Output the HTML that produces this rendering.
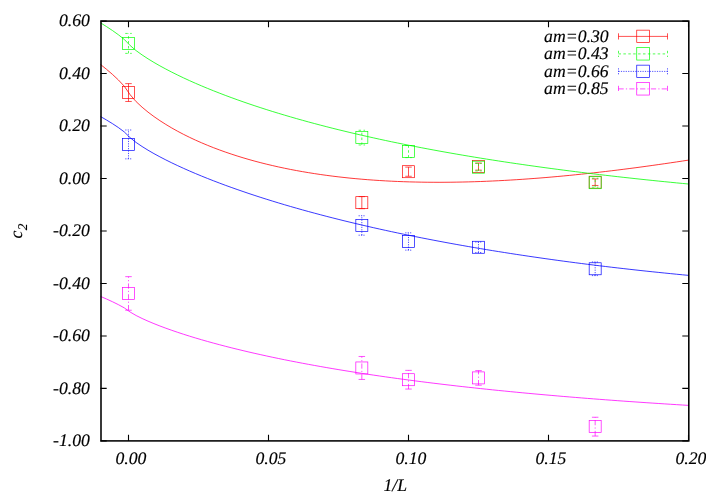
<!DOCTYPE html>
<html><head><meta charset="utf-8"><title>c2 vs 1/L</title>
<style>html,body{margin:0;padding:0;background:#fff}body{width:706px;height:494px;overflow:hidden}svg{display:block;will-change:transform}text{text-rendering:geometricPrecision;font-family:"Liberation Serif",serif;font-style:italic;fill:#000;stroke:#000;stroke-width:0.15px}</style></head><body>
<svg width="706" height="494" viewBox="0 0 706 494">
<rect width="706" height="494" fill="#fff"/>
<path d="M100.50 21.10h6.2M688.50 21.10h-6.2M100.50 73.57h6.2M688.50 73.57h-6.2M100.50 126.05h6.2M688.50 126.05h-6.2M100.50 178.52h6.2M688.50 178.52h-6.2M100.50 231.00h6.2M688.50 231.00h-6.2M100.50 283.48h6.2M688.50 283.48h-6.2M100.50 335.95h6.2M688.50 335.95h-6.2M100.50 388.42h6.2M688.50 388.42h-6.2M100.50 440.90h6.2M688.50 440.90h-6.2M128.50 440.90v-6.2M128.50 21.10v6.2M268.50 440.90v-6.2M268.50 21.10v6.2M408.50 440.90v-6.2M408.50 21.10v6.2M548.50 440.90v-6.2M548.50 21.10v6.2M688.50 440.90v-6.2M688.50 21.10v6.2" stroke="#000" stroke-width="1.1" fill="none"/>
<text x="89.90" y="26.40" font-size="17.7" text-anchor="end">0.60</text>
<text x="89.90" y="78.87" font-size="17.7" text-anchor="end">0.40</text>
<text x="89.90" y="131.35" font-size="17.7" text-anchor="end">0.20</text>
<text x="89.90" y="183.82" font-size="17.7" text-anchor="end">0.00</text>
<text x="89.90" y="236.30" font-size="17.7" text-anchor="end">-0.20</text>
<text x="89.90" y="288.78" font-size="17.7" text-anchor="end">-0.40</text>
<text x="89.90" y="341.25" font-size="17.7" text-anchor="end">-0.60</text>
<text x="89.90" y="393.72" font-size="17.7" text-anchor="end">-0.80</text>
<text x="89.90" y="446.20" font-size="17.7" text-anchor="end">-1.00</text>
<text x="130.90" y="464.2" font-size="17.7" text-anchor="middle">0.00</text>
<text x="270.90" y="464.2" font-size="17.7" text-anchor="middle">0.05</text>
<text x="410.90" y="464.2" font-size="17.7" text-anchor="middle">0.10</text>
<text x="550.90" y="464.2" font-size="17.7" text-anchor="middle">0.15</text>
<text x="690.90" y="464.2" font-size="17.7" text-anchor="middle">0.20</text>
<text x="395.3" y="490.8" font-size="17.7" text-anchor="middle">1/L</text>
<text transform="translate(22.2,238.6) rotate(-90)" font-size="17.7">c<tspan font-size="13.27" dx="0.5" dy="5.2">2</tspan></text>
<text x="608.6" y="41.80" font-size="17.7" text-anchor="end">am=0.30</text>
<text x="608.6" y="59.30" font-size="17.7" text-anchor="end">am=0.43</text>
<text x="608.6" y="76.80" font-size="17.7" text-anchor="end">am=0.66</text>
<text x="608.6" y="94.30" font-size="17.7" text-anchor="end">am=0.85</text>
<path d="M618.5 36.4H667.5" stroke="#ff0000" stroke-width="0.68" fill="none"/>
<path d="M618.5 33.3v6.2M667.5 33.3v6.2" stroke="#ff0000" stroke-width="0.68" fill="none"/>
<rect x="636.75" y="30.15" width="12.7" height="12.40" stroke="#ff0000" stroke-width="0.68" fill="none"/>
<path d="M128.50 101.47V83.62" stroke="#ff0000" stroke-width="0.68" fill="none"/>
<path d="M125.25 83.62h6.5M125.25 101.47h6.5" stroke="#ff0000" stroke-width="0.68" fill="none"/>
<rect x="122.50" y="86.54" width="12.0" height="12.0" stroke="#ff0000" stroke-width="0.68" fill="none"/>
<path d="M361.83 208.70V196.63" stroke="#ff0000" stroke-width="0.68" fill="none"/>
<path d="M358.58 196.63h6.5M358.58 208.70h6.5" stroke="#ff0000" stroke-width="0.68" fill="none"/>
<rect x="355.83" y="196.66" width="12.0" height="12.0" stroke="#ff0000" stroke-width="0.68" fill="none"/>
<path d="M408.50 176.29V167.11" stroke="#ff0000" stroke-width="0.68" fill="none"/>
<path d="M405.25 167.11h6.5M405.25 176.29h6.5" stroke="#ff0000" stroke-width="0.68" fill="none"/>
<rect x="402.50" y="165.70" width="12.0" height="12.0" stroke="#ff0000" stroke-width="0.68" fill="none"/>
<path d="M478.50 170.13V163.04" stroke="#ff0000" stroke-width="0.68" fill="none"/>
<path d="M475.25 163.04h6.5M475.25 170.13h6.5" stroke="#ff0000" stroke-width="0.68" fill="none"/>
<rect x="472.50" y="160.59" width="12.0" height="12.0" stroke="#ff0000" stroke-width="0.68" fill="none"/>
<path d="M595.17 185.48V178.92" stroke="#ff0000" stroke-width="0.68" fill="none"/>
<path d="M591.92 178.92h6.5M591.92 185.48h6.5" stroke="#ff0000" stroke-width="0.68" fill="none"/>
<rect x="589.17" y="176.20" width="12.0" height="12.0" stroke="#ff0000" stroke-width="0.68" fill="none"/>
<path d="M618.5 53.9H667.5" stroke-dasharray="2.5 2.4" stroke="#00ff00" stroke-width="0.68" fill="none"/>
<path d="M618.5 50.8v6.2M667.5 50.8v6.2" stroke-dasharray="2.5 2.4" stroke="#00ff00" stroke-width="0.68" fill="none"/>
<rect x="636.75" y="47.65" width="12.7" height="12.40" stroke="#00ff00" stroke-width="0.68" fill="none"/>
<path d="M128.50 53.37V33.43" stroke-dasharray="2.5 2.4" stroke="#00ff00" stroke-width="0.68" fill="none"/>
<path d="M125.25 33.43h6.5M125.25 53.37h6.5" stroke-dasharray="2.5 2.4" stroke="#00ff00" stroke-width="0.68" fill="none"/>
<rect x="122.50" y="37.40" width="12.0" height="12.0" stroke="#00ff00" stroke-width="0.68" fill="none"/>
<path d="M361.83 144.94V130.25" stroke-dasharray="2.5 2.4" stroke="#00ff00" stroke-width="0.68" fill="none"/>
<path d="M358.58 130.25h6.5M358.58 144.94h6.5" stroke-dasharray="2.5 2.4" stroke="#00ff00" stroke-width="0.68" fill="none"/>
<rect x="355.83" y="131.59" width="12.0" height="12.0" stroke="#00ff00" stroke-width="0.68" fill="none"/>
<path d="M408.50 157.61V145.54" stroke-dasharray="2.5 2.4" stroke="#00ff00" stroke-width="0.68" fill="none"/>
<path d="M405.25 145.54h6.5M405.25 157.61h6.5" stroke-dasharray="2.5 2.4" stroke="#00ff00" stroke-width="0.68" fill="none"/>
<rect x="402.50" y="145.58" width="12.0" height="12.0" stroke="#00ff00" stroke-width="0.68" fill="none"/>
<path d="M478.50 170.94V163.44" stroke-dasharray="2.5 2.4" stroke="#00ff00" stroke-width="0.68" fill="none"/>
<path d="M475.25 163.44h6.5M475.25 170.94h6.5" stroke-dasharray="2.5 2.4" stroke="#00ff00" stroke-width="0.68" fill="none"/>
<rect x="472.50" y="161.19" width="12.0" height="12.0" stroke="#00ff00" stroke-width="0.68" fill="none"/>
<path d="M595.17 187.16V178.24" stroke-dasharray="2.5 2.4" stroke="#00ff00" stroke-width="0.68" fill="none"/>
<path d="M591.92 178.24h6.5M591.92 187.16h6.5" stroke-dasharray="2.5 2.4" stroke="#00ff00" stroke-width="0.68" fill="none"/>
<rect x="589.17" y="176.70" width="12.0" height="12.0" stroke="#00ff00" stroke-width="0.68" fill="none"/>
<path d="M618.5 71.4H667.5" stroke-dasharray="1.2 1.2" stroke="#0000ff" stroke-width="0.68" fill="none"/>
<path d="M618.5 68.30000000000001v6.2M667.5 68.30000000000001v6.2" stroke-dasharray="1.2 1.2" stroke="#0000ff" stroke-width="0.68" fill="none"/>
<rect x="636.75" y="65.15" width="12.7" height="12.40" stroke="#0000ff" stroke-width="0.68" fill="none"/>
<path d="M128.50 158.85V129.99" stroke-dasharray="1.2 1.2" stroke="#0000ff" stroke-width="0.68" fill="none"/>
<path d="M125.25 129.99h6.5M125.25 158.85h6.5" stroke-dasharray="1.2 1.2" stroke="#0000ff" stroke-width="0.68" fill="none"/>
<rect x="122.50" y="138.42" width="12.0" height="12.0" stroke="#0000ff" stroke-width="0.68" fill="none"/>
<path d="M361.83 235.20V215.78" stroke-dasharray="1.2 1.2" stroke="#0000ff" stroke-width="0.68" fill="none"/>
<path d="M358.58 215.78h6.5M358.58 235.20h6.5" stroke-dasharray="1.2 1.2" stroke="#0000ff" stroke-width="0.68" fill="none"/>
<rect x="355.83" y="219.49" width="12.0" height="12.0" stroke="#0000ff" stroke-width="0.68" fill="none"/>
<path d="M408.50 250.15V232.84" stroke-dasharray="1.2 1.2" stroke="#0000ff" stroke-width="0.68" fill="none"/>
<path d="M405.25 232.84h6.5M405.25 250.15h6.5" stroke-dasharray="1.2 1.2" stroke="#0000ff" stroke-width="0.68" fill="none"/>
<rect x="402.50" y="235.49" width="12.0" height="12.0" stroke="#0000ff" stroke-width="0.68" fill="none"/>
<path d="M478.50 252.51V242.02" stroke-dasharray="1.2 1.2" stroke="#0000ff" stroke-width="0.68" fill="none"/>
<path d="M475.25 242.02h6.5M475.25 252.51h6.5" stroke-dasharray="1.2 1.2" stroke="#0000ff" stroke-width="0.68" fill="none"/>
<rect x="472.50" y="241.27" width="12.0" height="12.0" stroke="#0000ff" stroke-width="0.68" fill="none"/>
<path d="M595.17 275.60V261.96" stroke-dasharray="1.2 1.2" stroke="#0000ff" stroke-width="0.68" fill="none"/>
<path d="M591.92 261.96h6.5M591.92 275.60h6.5" stroke-dasharray="1.2 1.2" stroke="#0000ff" stroke-width="0.68" fill="none"/>
<rect x="589.17" y="262.78" width="12.0" height="12.0" stroke="#0000ff" stroke-width="0.68" fill="none"/>
<path d="M618.5 88.9H667.5" stroke-dasharray="5.2 2.2 1.2 2.2" stroke="#ff00ff" stroke-width="0.68" fill="none"/>
<path d="M618.5 85.80000000000001v6.2M667.5 85.80000000000001v6.2" stroke-dasharray="5.2 2.2 1.2 2.2" stroke="#ff00ff" stroke-width="0.68" fill="none"/>
<rect x="636.75" y="82.65" width="12.7" height="12.40" stroke="#ff00ff" stroke-width="0.68" fill="none"/>
<path d="M128.50 310.24V276.65" stroke-dasharray="5.2 2.2 1.2 2.2" stroke="#ff00ff" stroke-width="0.68" fill="none"/>
<path d="M125.25 276.65h6.5M125.25 310.24h6.5" stroke="#ff00ff" stroke-width="0.68" fill="none"/>
<rect x="122.50" y="287.45" width="12.0" height="12.0" stroke="#ff00ff" stroke-width="0.68" fill="none"/>
<path d="M361.83 379.45V356.47" stroke-dasharray="5.2 2.2 1.2 2.2" stroke="#ff00ff" stroke-width="0.68" fill="none"/>
<path d="M358.58 356.47h6.5M358.58 379.45h6.5" stroke="#ff00ff" stroke-width="0.68" fill="none"/>
<rect x="355.83" y="361.96" width="12.0" height="12.0" stroke="#ff00ff" stroke-width="0.68" fill="none"/>
<path d="M408.50 389.05V370.37" stroke-dasharray="5.2 2.2 1.2 2.2" stroke="#ff00ff" stroke-width="0.68" fill="none"/>
<path d="M405.25 370.37h6.5M405.25 389.05h6.5" stroke="#ff00ff" stroke-width="0.68" fill="none"/>
<rect x="402.50" y="373.71" width="12.0" height="12.0" stroke="#ff00ff" stroke-width="0.68" fill="none"/>
<path d="M478.50 385.20V370.61" stroke-dasharray="5.2 2.2 1.2 2.2" stroke="#ff00ff" stroke-width="0.68" fill="none"/>
<path d="M475.25 370.61h6.5M475.25 385.20h6.5" stroke="#ff00ff" stroke-width="0.68" fill="none"/>
<rect x="472.50" y="371.90" width="12.0" height="12.0" stroke="#ff00ff" stroke-width="0.68" fill="none"/>
<path d="M595.17 436.05V417.26" stroke-dasharray="5.2 2.2 1.2 2.2" stroke="#ff00ff" stroke-width="0.68" fill="none"/>
<path d="M591.92 417.26h6.5M591.92 436.05h6.5" stroke="#ff00ff" stroke-width="0.68" fill="none"/>
<rect x="589.17" y="420.65" width="12.0" height="12.0" stroke="#ff00ff" stroke-width="0.68" fill="none"/>
<path d="M100.50 64.47 L106.44 69.24 L112.38 74.33 L118.32 79.88 L124.26 86.20 L130.20 94.82 L136.14 101.64 L142.08 107.20 L148.02 112.11 L153.95 116.56 L159.89 120.64 L165.83 124.43 L171.77 127.97 L177.71 131.29 L183.65 134.41 L189.59 137.35 L195.53 140.13 L201.47 142.76 L207.41 145.26 L213.35 147.63 L219.29 149.87 L225.23 152.01 L231.17 154.03 L237.11 155.96 L243.05 157.79 L248.98 159.53 L254.92 161.18 L260.86 162.74 L266.80 164.23 L272.74 165.64 L278.68 166.98 L284.62 168.24 L290.56 169.44 L296.50 170.57 L302.44 171.64 L308.38 172.64 L314.32 173.59 L320.26 174.48 L326.20 175.31 L332.14 176.09 L338.08 176.81 L344.02 177.48 L349.95 178.11 L355.89 178.68 L361.83 179.21 L367.77 179.69 L373.71 180.13 L379.65 180.52 L385.59 180.88 L391.53 181.19 L397.47 181.46 L403.41 181.69 L409.35 181.88 L415.29 182.03 L421.23 182.15 L427.17 182.24 L433.11 182.28 L439.05 182.30 L444.98 182.28 L450.92 182.23 L456.86 182.14 L462.80 182.03 L468.74 181.88 L474.68 181.71 L480.62 181.51 L486.56 181.27 L492.50 181.01 L498.44 180.73 L504.38 180.41 L510.32 180.07 L516.26 179.71 L522.20 179.32 L528.14 178.90 L534.08 178.46 L540.02 178.00 L545.95 177.52 L551.89 177.01 L557.83 176.48 L563.77 175.93 L569.71 175.36 L575.65 174.76 L581.59 174.15 L587.53 173.52 L593.47 172.87 L599.41 172.20 L605.35 171.51 L611.29 170.80 L617.23 170.08 L623.17 169.33 L629.11 168.57 L635.05 167.80 L640.98 167.00 L646.92 166.20 L652.86 165.37 L658.80 164.53 L664.74 163.68 L670.68 162.81 L676.62 161.93 L682.56 161.03 L688.50 160.12" stroke="#ff0000" stroke-width="0.78" fill="none" stroke-linejoin="round"/>
<path d="M100.50 22.84 L106.44 26.55 L112.38 30.47 L118.32 34.69 L124.26 39.41 L130.20 45.57 L136.14 50.63 L142.08 54.92 L148.02 58.81 L153.95 62.43 L159.89 65.83 L165.83 69.06 L171.77 72.14 L177.71 75.09 L183.65 77.93 L189.59 80.66 L195.53 83.30 L201.47 85.85 L207.41 88.33 L213.35 90.73 L219.29 93.06 L225.23 95.33 L231.17 97.54 L237.11 99.69 L243.05 101.79 L248.98 103.84 L254.92 105.83 L260.86 107.78 L266.80 109.69 L272.74 111.55 L278.68 113.37 L284.62 115.15 L290.56 116.89 L296.50 118.60 L302.44 120.27 L308.38 121.91 L314.32 123.51 L320.26 125.08 L326.20 126.62 L332.14 128.13 L338.08 129.61 L344.02 131.06 L349.95 132.49 L355.89 133.88 L361.83 135.25 L367.77 136.60 L373.71 137.92 L379.65 139.22 L385.59 140.50 L391.53 141.75 L397.47 142.98 L403.41 144.18 L409.35 145.37 L415.29 146.54 L421.23 147.68 L427.17 148.81 L433.11 149.92 L439.05 151.00 L444.98 152.07 L450.92 153.12 L456.86 154.16 L462.80 155.18 L468.74 156.18 L474.68 157.16 L480.62 158.13 L486.56 159.08 L492.50 160.02 L498.44 160.94 L504.38 161.85 L510.32 162.74 L516.26 163.62 L522.20 164.48 L528.14 165.33 L534.08 166.17 L540.02 166.99 L545.95 167.80 L551.89 168.60 L557.83 169.39 L563.77 170.16 L569.71 170.93 L575.65 171.68 L581.59 172.42 L587.53 173.15 L593.47 173.86 L599.41 174.57 L605.35 175.27 L611.29 175.95 L617.23 176.63 L623.17 177.30 L629.11 177.95 L635.05 178.60 L640.98 179.24 L646.92 179.87 L652.86 180.49 L658.80 181.10 L664.74 181.70 L670.68 182.29 L676.62 182.88 L682.56 183.45 L688.50 184.02" stroke="#00ff00" stroke-width="0.78" fill="none" stroke-linejoin="round"/>
<path d="M100.50 116.54 L106.44 119.96 L112.38 123.59 L118.32 127.51 L124.26 131.92 L130.20 137.71 L136.14 142.47 L142.08 146.51 L148.02 150.19 L153.95 153.61 L159.89 156.84 L165.83 159.91 L171.77 162.85 L177.71 165.67 L183.65 168.39 L189.59 171.01 L195.53 173.55 L201.47 176.02 L207.41 178.41 L213.35 180.74 L219.29 183.01 L225.23 185.22 L231.17 187.37 L237.11 189.48 L243.05 191.53 L248.98 193.55 L254.92 195.51 L260.86 197.44 L266.80 199.32 L272.74 201.17 L278.68 202.97 L284.62 204.75 L290.56 206.49 L296.50 208.19 L302.44 209.86 L308.38 211.50 L314.32 213.12 L320.26 214.70 L326.20 216.25 L332.14 217.78 L338.08 219.28 L344.02 220.75 L349.95 222.20 L355.89 223.62 L361.83 225.02 L367.77 226.39 L373.71 227.74 L379.65 229.07 L385.59 230.38 L391.53 231.67 L397.47 232.93 L403.41 234.18 L409.35 235.40 L415.29 236.60 L421.23 237.79 L427.17 238.95 L433.11 240.10 L439.05 241.23 L444.98 242.34 L450.92 243.43 L456.86 244.50 L462.80 245.56 L468.74 246.60 L474.68 247.63 L480.62 248.64 L486.56 249.63 L492.50 250.61 L498.44 251.57 L504.38 252.51 L510.32 253.45 L516.26 254.36 L522.20 255.26 L528.14 256.15 L534.08 257.03 L540.02 257.89 L545.95 258.73 L551.89 259.56 L557.83 260.38 L563.77 261.19 L569.71 261.98 L575.65 262.76 L581.59 263.53 L587.53 264.29 L593.47 265.03 L599.41 265.76 L605.35 266.48 L611.29 267.19 L617.23 267.88 L623.17 268.56 L629.11 269.24 L635.05 269.90 L640.98 270.55 L646.92 271.19 L652.86 271.82 L658.80 272.43 L664.74 273.04 L670.68 273.64 L676.62 274.22 L682.56 274.80 L688.50 275.36" stroke="#0000ff" stroke-width="0.78" fill="none" stroke-linejoin="round"/>
<path d="M100.50 296.40 L106.44 298.98 L112.38 301.70 L118.32 304.61 L124.26 307.85 L130.20 312.06 L136.14 315.53 L142.08 318.48 L148.02 321.15 L153.95 323.64 L159.89 325.97 L165.83 328.19 L171.77 330.31 L177.71 332.34 L183.65 334.29 L189.59 336.16 L195.53 337.97 L201.47 339.73 L207.41 341.43 L213.35 343.07 L219.29 344.67 L225.23 346.22 L231.17 347.74 L237.11 349.21 L243.05 350.64 L248.98 352.04 L254.92 353.40 L260.86 354.73 L266.80 356.03 L272.74 357.30 L278.68 358.54 L284.62 359.75 L290.56 360.93 L296.50 362.09 L302.44 363.22 L308.38 364.33 L314.32 365.42 L320.26 366.48 L326.20 367.52 L332.14 368.54 L338.08 369.54 L344.02 370.52 L349.95 371.48 L355.89 372.42 L361.83 373.35 L367.77 374.25 L373.71 375.14 L379.65 376.01 L385.59 376.86 L391.53 377.70 L397.47 378.52 L403.41 379.33 L409.35 380.12 L415.29 380.90 L421.23 381.66 L427.17 382.41 L433.11 383.15 L439.05 383.87 L444.98 384.58 L450.92 385.28 L456.86 385.97 L462.80 386.64 L468.74 387.30 L474.68 387.95 L480.62 388.59 L486.56 389.21 L492.50 389.83 L498.44 390.44 L504.38 391.03 L510.32 391.62 L516.26 392.19 L522.20 392.76 L528.14 393.32 L534.08 393.86 L540.02 394.40 L545.95 394.93 L551.89 395.45 L557.83 395.96 L563.77 396.47 L569.71 396.96 L575.65 397.45 L581.59 397.93 L587.53 398.40 L593.47 398.86 L599.41 399.32 L605.35 399.77 L611.29 400.21 L617.23 400.65 L623.17 401.08 L629.11 401.50 L635.05 401.91 L640.98 402.32 L646.92 402.72 L652.86 403.12 L658.80 403.51 L664.74 403.90 L670.68 404.28 L676.62 404.65 L682.56 405.02 L688.50 405.38" stroke="#ff00ff" stroke-width="0.78" fill="none" stroke-linejoin="round"/>
<rect x="101.00" y="21.10" width="587.80" height="419.80" stroke="#000" stroke-width="1.55" fill="none"/>
</svg></body></html>
